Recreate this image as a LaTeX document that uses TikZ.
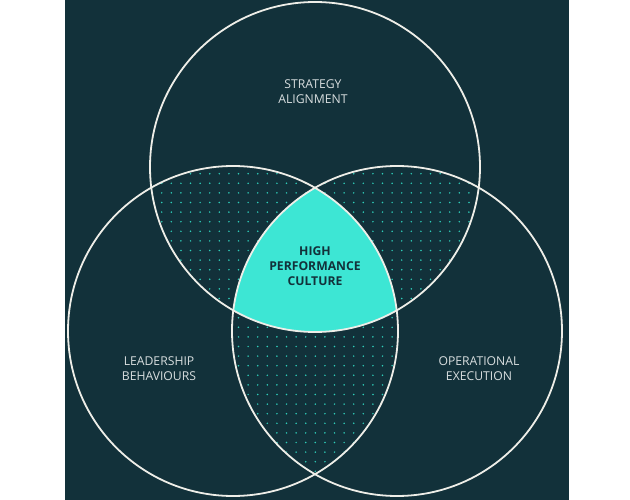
\documentclass[tikz,border=0pt]{standalone}
\usepackage{fontspec}
\setmainfont{Open Sans}
\definecolor{bgdark}{HTML}{12313A}
\definecolor{tealc}{HTML}{3DE6D4}
\definecolor{dotc}{HTML}{2FCDB9}
\definecolor{ringc}{HTML}{EEEEE8}
\definecolor{labc}{HTML}{D8DEDF}
\tikzset{
  ring/.style={draw=ringc, line width=1.8pt, circle, minimum size=330pt, inner sep=0pt},
  lab/.style={text=labc, align=center, font=\fontsize{12.2}{14.8}\selectfont},
  corelab/.style={text=bgdark, align=center, font=\bfseries\fontsize{12.2}{15.2}\selectfont},
  dotmark/.style={fill=dotc}
}
\begin{document}
\begin{tikzpicture}[x=1pt,y=-1pt]
\useasboundingbox (0,0) rectangle (630,500);
\fill[bgdark] (65,0) rectangle (569,500);
\coordinate (ct) at (315,167);
\coordinate (cl) at (233,331);
\coordinate (cr) at (397,331);
% dots: top & left
\begin{scope}
  \clip (ct) circle[radius=165pt];
  \clip (cl) circle[radius=165pt];
  \foreach \x in {142.5,152.1,...,320}{
    \foreach \y in {173.7,183.3,...,320}{
      \fill[dotmark] (\x,\y) circle[radius=0.85pt];
    }
  }
\end{scope}
% dots: top & right
\begin{scope}
  \clip (ct) circle[radius=165pt];
  \clip (cr) circle[radius=165pt];
  \foreach \x in {305.7,315.3,...,485}{
    \foreach \y in {173.7,183.3,...,320}{
      \fill[dotmark] (\x,\y) circle[radius=0.85pt];
    }
  }
\end{scope}
% dots: left & right
\begin{scope}
  \clip (cl) circle[radius=165pt];
  \clip (cr) circle[radius=165pt];
  \foreach \x in {228.9,238.5,...,402}{
    \foreach \y in {183.3,192.9,...,480}{
      \fill[dotmark] (\x,\y) circle[radius=0.85pt];
    }
  }
\end{scope}
% center
\begin{scope}
  \clip (ct) circle[radius=165pt];
  \clip (cl) circle[radius=165pt];
  \fill[tealc] (cr) circle[radius=165pt];
\end{scope}
\node[ring] (topc) at (ct) {};
\node[ring] (leftc) at (cl) {};
\node[ring] (rightc) at (cr) {};
\node[lab] (strat) at (313,92) {STRATEGY\\ALIGNMENT};
\node[lab] (lead) at (159,369) {LEADERSHIP\\BEHAVIOURS};
\node[lab] (oper) at (479,369) {OPERATIONAL\\EXECUTION};
\node[corelab] (core) at (315,266) {HIGH\\PERFORMANCE\\CULTURE};
\end{tikzpicture}
\end{document}
